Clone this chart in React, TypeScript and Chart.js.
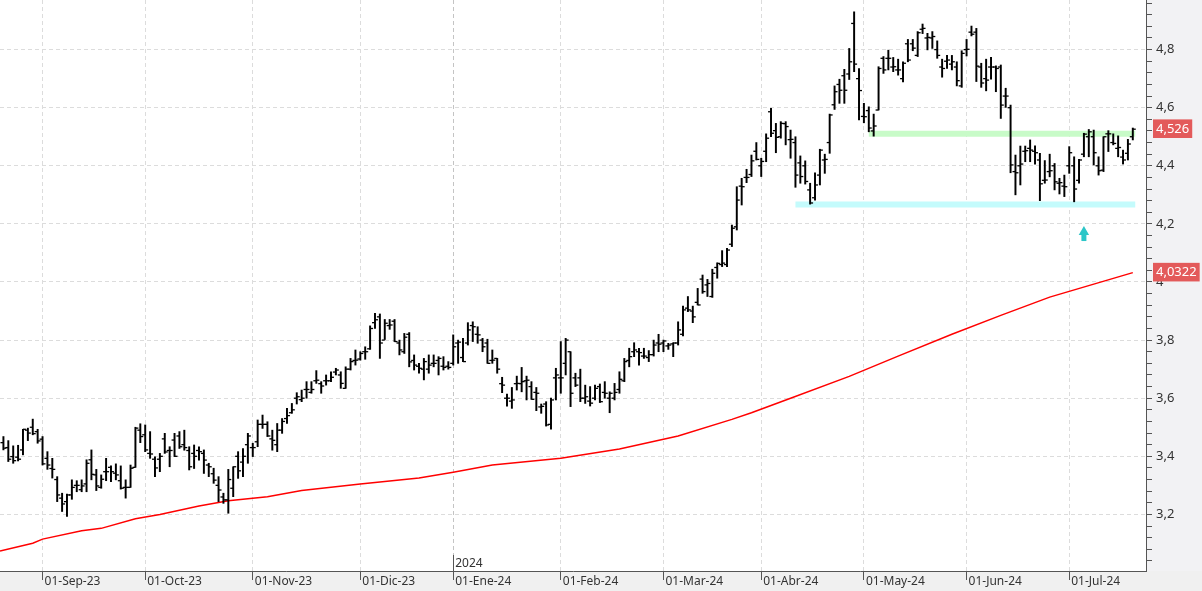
import React, { useEffect, useRef } from 'react';
import { Chart, registerables } from 'chart.js';

Chart.register(...registerables);

// Daily OHLC bars, index 0 = 22-Aug-23 ... index 231 = 17-Jul-24
const highs = [
  3.468, 3.454, 3.436, 3.438, 3.493, 3.497, 3.528, 3.493, 3.468, 3.416,
  3.393, 3.33, 3.273, 3.27, 3.319, 3.316, 3.319, 3.388, 3.422, 3.355,
  3.336, 3.393, 3.367, 3.374, 3.367, 3.319, 3.37, 3.5, 3.512, 3.508,
  3.485, 3.398, 3.41, 3.479, 3.433, 3.479, 3.485, 3.49, 3.433, 3.439,
  3.433, 3.422, 3.376, 3.359, 3.33, 3.273, 3.355, 3.364, 3.416, 3.427,
  3.479, 3.445, 3.525, 3.542, 3.519, 3.49, 3.513, 3.53, 3.565, 3.582,
  3.619, 3.628, 3.657, 3.657, 3.695, 3.657, 3.68, 3.691, 3.703, 3.691,
  3.708, 3.737, 3.766, 3.76, 3.777, 3.849, 3.892, 3.89, 3.871, 3.871,
  3.871, 3.8, 3.823, 3.826, 3.749, 3.72, 3.737, 3.749, 3.749, 3.743,
  3.743, 3.726, 3.818, 3.8, 3.806, 3.86, 3.863, 3.846, 3.806, 3.803,
  3.766, 3.737, 3.672, 3.614, 3.637, 3.676, 3.706, 3.676, 3.657, 3.637,
  3.58, 3.588, 3.6, 3.703, 3.795, 3.806, 3.76, 3.686, 3.7, 3.645,
  3.64, 3.645, 3.649, 3.657, 3.622, 3.651, 3.691, 3.737, 3.772, 3.791,
  3.772, 3.772, 3.764, 3.8, 3.82, 3.8, 3.789, 3.791, 3.863, 3.917,
  3.95, 3.917, 3.978, 4.024, 4.009, 4.044, 4.066, 4.108, 4.116, 4.196,
  4.328, 4.357, 4.388, 4.437, 4.48, 4.426, 4.51, 4.598, 4.546, 4.552,
  4.552, 4.523, 4.5, 4.434, 4.417, 4.34, 4.376, 4.457, 4.44, 4.578,
  4.675, 4.698, 4.732, 4.804, 4.93, 4.735, 4.615, 4.603, 4.578, 4.741,
  4.776, 4.798, 4.773, 4.767, 4.758, 4.835, 4.835, 4.862, 4.888, 4.856,
  4.862, 4.83, 4.767, 4.78, 4.78, 4.758, 4.796, 4.835, 4.881, 4.873,
  4.753, 4.767, 4.773, 4.744, 4.747, 4.667, 4.609, 4.437, 4.468, 4.468,
  4.489, 4.469, 4.443, 4.418, 4.44, 4.408, 4.357, 4.368, 4.466, 4.431,
  4.422, 4.512, 4.525, 4.523, 4.431, 4.5, 4.521, 4.51, 4.503, 4.454,
  4.491, 4.53
];
const lows = [
  3.422, 3.382, 3.376, 3.384, 3.405, 3.454, 3.474, 3.445, 3.37, 3.355,
  3.325, 3.244, 3.21, 3.193, 3.252, 3.278, 3.278, 3.278, 3.319, 3.282,
  3.29, 3.316, 3.313, 3.319, 3.287, 3.256, 3.293, 3.362, 3.447, 3.416,
  3.393, 3.33, 3.347, 3.41, 3.364, 3.399, 3.427, 3.421, 3.353, 3.358,
  3.387, 3.341, 3.33, 3.307, 3.244, 3.238, 3.204, 3.261, 3.324, 3.33,
  3.376, 3.399, 3.433, 3.496, 3.468, 3.421, 3.416, 3.479, 3.513, 3.548,
  3.58, 3.588, 3.6, 3.617, 3.651, 3.617, 3.645, 3.657, 3.68, 3.634,
  3.634, 3.697, 3.714, 3.731, 3.734, 3.768, 3.84, 3.737, 3.802, 3.837,
  3.795, 3.749, 3.754, 3.708, 3.697, 3.686, 3.663, 3.686, 3.708, 3.68,
  3.697, 3.7, 3.714, 3.72, 3.726, 3.783, 3.795, 3.789, 3.76, 3.72,
  3.72, 3.686, 3.619, 3.573, 3.565, 3.628, 3.622, 3.594, 3.596, 3.557,
  3.548, 3.504, 3.493, 3.594, 3.617, 3.68, 3.571, 3.64, 3.588, 3.582,
  3.573, 3.594, 3.585, 3.6, 3.55, 3.594, 3.617, 3.657, 3.708, 3.743,
  3.714, 3.737, 3.726, 3.745, 3.76, 3.76, 3.768, 3.743, 3.783, 3.814,
  3.898, 3.86, 3.921, 3.961, 3.95, 3.947, 4.013, 4.053, 4.053, 4.122,
  4.179, 4.265, 4.342, 4.363, 4.42, 4.363, 4.414, 4.5, 4.445, 4.495,
  4.472, 4.426, 4.326, 4.34, 4.337, 4.268, 4.282, 4.334, 4.374, 4.443,
  4.594, 4.615, 4.615, 4.697, 4.724, 4.558, 4.548, 4.517, 4.502, 4.592,
  4.718, 4.73, 4.724, 4.712, 4.689, 4.758, 4.796, 4.776, 4.855, 4.799,
  4.804, 4.77, 4.705, 4.735, 4.73, 4.675, 4.67, 4.778, 4.847, 4.69,
  4.67, 4.658, 4.698, 4.655, 4.563, 4.601, 4.376, 4.3, 4.334, 4.414,
  4.414, 4.406, 4.28, 4.34, 4.362, 4.317, 4.303, 4.294, 4.374, 4.276,
  4.34, 4.431, 4.431, 4.403, 4.368, 4.38, 4.449, 4.472, 4.431, 4.406,
  4.42, 4.489
];
const opens = [
  3.447, 3.43, 3.399, 3.397, 3.422, 3.49, 3.5, 3.485, 3.459, 3.393,
  3.358, 3.32, 3.256, 3.244, 3.267, 3.3, 3.285, 3.305, 3.388, 3.336,
  3.293, 3.347, 3.362, 3.342, 3.316, 3.293, 3.293, 3.362, 3.49, 3.474,
  3.41, 3.39, 3.39, 3.46, 3.42, 3.456, 3.47, 3.44, 3.42, 3.41,
  3.42, 3.41, 3.37, 3.34, 3.3, 3.26, 3.25, 3.29, 3.4, 3.38,
  3.44, 3.43, 3.45, 3.51, 3.51, 3.46, 3.44, 3.49, 3.53, 3.55,
  3.6, 3.595, 3.63, 3.62, 3.66, 3.65, 3.66, 3.66, 3.69, 3.68,
  3.634, 3.7, 3.73, 3.735, 3.76, 3.77, 3.86, 3.88, 3.8, 3.85,
  3.865, 3.79, 3.76, 3.82, 3.73, 3.71, 3.7, 3.7, 3.72, 3.73,
  3.71, 3.71, 3.72, 3.79, 3.74, 3.79, 3.85, 3.82, 3.8, 3.79,
  3.73, 3.737, 3.65, 3.6, 3.59, 3.65, 3.65, 3.66, 3.64, 3.62,
  3.57, 3.58, 3.51, 3.67, 3.67, 3.72, 3.76, 3.67, 3.67, 3.6,
  3.59, 3.6, 3.64, 3.62, 3.6, 3.6, 3.63, 3.66, 3.73, 3.76,
  3.76, 3.745, 3.74, 3.75, 3.79, 3.79, 3.78, 3.787, 3.79, 3.82,
  3.91, 3.9, 3.93, 4.01, 3.99, 3.95, 4.05, 4.06, 4.06, 4.13,
  4.19, 4.33, 4.36, 4.37, 4.45, 4.4, 4.45, 4.586, 4.521, 4.5,
  4.545, 4.49, 4.48, 4.41, 4.4, 4.317, 4.29, 4.368, 4.42, 4.48,
  4.61, 4.68, 4.71, 4.716, 4.89, 4.7, 4.57, 4.59, 4.52, 4.592,
  4.77, 4.77, 4.74, 4.73, 4.7, 4.82, 4.82, 4.78, 4.87, 4.84,
  4.84, 4.8, 4.74, 4.76, 4.75, 4.74, 4.675, 4.8, 4.86, 4.86,
  4.74, 4.7, 4.74, 4.74, 4.74, 4.64, 4.6, 4.38, 4.4, 4.45,
  4.46, 4.45, 4.42, 4.35, 4.38, 4.4, 4.34, 4.33, 4.4, 4.4,
  4.35, 4.44, 4.5, 4.5, 4.4, 4.385, 4.51, 4.48, 4.46, 4.43,
  4.443, 4.5
];
const closes = [
  3.428, 3.39, 3.385, 3.39, 3.493, 3.48, 3.478, 3.453, 3.374, 3.37,
  3.355, 3.267, 3.236, 3.267, 3.293, 3.3, 3.298, 3.376, 3.338, 3.298,
  3.321, 3.347, 3.347, 3.336, 3.29, 3.293, 3.359, 3.497, 3.468, 3.422,
  3.408, 3.36, 3.4, 3.415, 3.42, 3.4, 3.433, 3.43, 3.364, 3.4,
  3.416, 3.387, 3.364, 3.318, 3.284, 3.25, 3.32, 3.364, 3.35, 3.4,
  3.47, 3.43, 3.51, 3.51, 3.47, 3.455, 3.49, 3.52, 3.54, 3.56,
  3.605, 3.6, 3.63, 3.63, 3.662, 3.642, 3.66, 3.672, 3.697, 3.651,
  3.7, 3.726, 3.731, 3.754, 3.76, 3.84, 3.87, 3.79, 3.858, 3.852,
  3.795, 3.766, 3.81, 3.725, 3.714, 3.703, 3.726, 3.714, 3.72, 3.737,
  3.706, 3.706, 3.777, 3.793, 3.726, 3.835, 3.846, 3.818, 3.777, 3.72,
  3.731, 3.7, 3.645, 3.6, 3.594, 3.651, 3.657, 3.662, 3.596, 3.617,
  3.572, 3.508, 3.594, 3.68, 3.67, 3.8, 3.617, 3.645, 3.6, 3.605,
  3.583, 3.634, 3.588, 3.617, 3.617, 3.62, 3.665, 3.726, 3.743, 3.766,
  3.757, 3.745, 3.75, 3.783, 3.786, 3.797, 3.783, 3.79, 3.835, 3.904,
  3.904, 3.88, 3.921, 3.967, 3.995, 4.03, 4.064, 4.065, 4.11, 4.185,
  4.282, 4.328, 4.36, 4.417, 4.422, 4.415, 4.495, 4.512, 4.498, 4.546,
  4.535, 4.491, 4.368, 4.363, 4.346, 4.272, 4.334, 4.454, 4.422, 4.575,
  4.655, 4.66, 4.66, 4.758, 4.75, 4.659, 4.569, 4.53, 4.537, 4.735,
  4.73, 4.77, 4.741, 4.73, 4.753, 4.764, 4.805, 4.858, 4.873, 4.842,
  4.845, 4.78, 4.735, 4.764, 4.758, 4.693, 4.787, 4.801, 4.853, 4.743,
  4.685, 4.695, 4.74, 4.735, 4.609, 4.64, 4.403, 4.376, 4.406, 4.452,
  4.454, 4.445, 4.338, 4.351, 4.383, 4.345, 4.342, 4.328, 4.445, 4.32,
  4.42, 4.509, 4.517, 4.445, 4.383, 4.5, 4.51, 4.477, 4.463, 4.42,
  4.475, 4.526
];

// Moving average (red line)
const maIndex = [-0.7, 6, 8, 16, 20, 27, 32, 40, 46, 54, 61, 73, 85, 92, 100, 114, 126, 138, 149, 153, 161, 173, 183, 194, 204, 214, 231];
const maValues = [3.074, 3.101, 3.115, 3.144, 3.152, 3.185, 3.2, 3.229, 3.247, 3.261, 3.282, 3.305, 3.325, 3.345, 3.37, 3.393, 3.425, 3.47, 3.527, 3.55, 3.6, 3.675, 3.745, 3.82, 3.885, 3.948, 4.0322];

// Month axis
const monthTickIndex = [8, 29, 51, 73, 92, 114, 135, 155, 176, 197, 218];
const monthTickLabels = ['01-Sep-23', '01-Oct-23', '01-Nov-23', '01-Dic-23', '01-Ene-24', '01-Feb-24', '01-Mar-24', '01-Abr-24', '01-May-24', '01-Jun-24', '01-Jul-24'];
const yearTickIndex = 92;
const yearLabel = '2024';

// Horizontal levels and arrow
const resistanceLevel = 4.51;
const resistanceSpan = [177, 231.5];
const supportLevel = 4.267;
const supportSpan = [162, 231.5];
const arrowIndex = 221;
const arrowHead = 4.172;
const arrowTail = 4.141;

// Price markers on the right axis
const markerValues = [4.0322, 4.526];
const markerLabels = ['4,0322', '4,526'];

const FONT = '"Noto Sans", "DejaVu Sans", sans-serif';

const isMarker = (v: number) => markerValues.some((m) => Math.abs(m - v) < 1e-9);
const isMajor = (v: number) => Math.abs(v * 5 - Math.round(v * 5)) < 1e-6;

export default function App() {
  const ref = useRef<HTMLCanvasElement | null>(null);

  useEffect(() => {
    const canvas = ref.current;
    if (!canvas) return;

    const barData = highs.map((h, i) => ({ x: i, y: [lows[i], h] }));
    const openData = opens.map((o, i) => ({ x: i - 0.3, y: o }));
    const closeData = closes.map((c, i) => ({ x: i + 0.3, y: c }));
    const maData = maIndex.map((x, i) => ({ x, y: maValues[i] }));

    const bgPlugin = {
      id: 'axisBg',
      beforeDraw(chart: any) {
        const { ctx, chartArea, width, height } = chart;
        ctx.save();
        ctx.fillStyle = '#ffffff';
        ctx.fillRect(0, 0, width, height);
        ctx.fillStyle = '#f2f2f4';
        ctx.fillRect(chartArea.right, 0, width - chartArea.right, height);
        ctx.fillStyle = '#f0f0f0';
        ctx.fillRect(0, chartArea.bottom, width, height - chartArea.bottom);
        ctx.restore();
      },
      afterDraw(chart: any) {
        const { ctx, chartArea, scales } = chart;
        const px = scales.x.getPixelForValue(yearTickIndex);
        ctx.save();
        ctx.strokeStyle = '#555';
        ctx.lineWidth = 1;
        ctx.beginPath();
        ctx.moveTo(Math.round(px) + 0.5, chartArea.bottom - 16);
        ctx.lineTo(Math.round(px) + 0.5, chartArea.bottom);
        ctx.stroke();
        ctx.fillStyle = '#333';
        ctx.font = '12px ' + FONT;
        ctx.textBaseline = 'bottom';
        ctx.fillText(yearLabel, px + 2, chartArea.bottom - 1);
        ctx.restore();
      },
    };

    const chart = new Chart(canvas, {
      type: 'bar',
      data: {
        datasets: [
          {
            type: 'line',
            data: [{ x: supportSpan[0], y: supportLevel }, { x: supportSpan[1], y: supportLevel }],
            borderColor: '#c4fbfc',
            borderWidth: 6,
            pointRadius: 0,
            order: 10,
          } as any,
          {
            type: 'line',
            data: [{ x: resistanceSpan[0], y: resistanceLevel }, { x: resistanceSpan[1], y: resistanceLevel }],
            borderColor: '#c8fbc8',
            borderWidth: 6,
            pointRadius: 0,
            order: 10,
          },
          {
            type: 'line',
            data: maData,
            borderColor: '#ff0000',
            borderWidth: 1.5,
            pointRadius: 0,
            tension: 0,
            order: 5,
          },
          {
            type: 'bar',
            data: barData,
            backgroundColor: '#000000',
            borderWidth: 0,
            barThickness: 1.3,
            grouped: false,
            order: 2,
          },
          {
            type: 'scatter',
            data: openData,
            pointStyle: 'line',
            pointRadius: 1.5,
            pointBorderWidth: 1.3,
            pointBorderColor: '#000',
            borderColor: '#000',
            order: 1,
          },
          {
            type: 'scatter',
            data: closeData,
            pointStyle: 'line',
            pointRadius: 1.5,
            pointBorderWidth: 1.3,
            pointBorderColor: '#000',
            borderColor: '#000',
            order: 1,
          },
          {
            type: 'line',
            data: [{ x: arrowIndex, y: arrowTail }, { x: arrowIndex, y: arrowHead }],
            borderColor: '#2cc6c8',
            borderWidth: 5,
            borderCapStyle: 'butt',
            pointRadius: 0,
            order: 0,
          },
          {
            type: 'scatter',
            data: [{ x: arrowIndex, y: arrowHead }],
            pointStyle: 'triangle',
            pointRadius: 6,
            pointBackgroundColor: '#2cc6c8',
            pointBorderWidth: 0,
            backgroundColor: '#2cc6c8',
            borderWidth: 0,
            order: 0,
          },
        ] as any,
      },
      options: {
        responsive: false,
        animation: false,
        events: [],
        layout: { padding: 0, autoPadding: false },
        plugins: { legend: { display: false }, tooltip: { enabled: false } },
        scales: {
          x: {
            type: 'linear',
            min: -0.7,
            max: 233.7,
            offset: false,
            afterFit(scale: any) {
              scale.height = 20;
              scale.paddingLeft = 0;
              scale.paddingRight = 0;
            },
            afterBuildTicks(scale: any) {
              scale.ticks = monthTickIndex.map((v) => ({ value: v }));
            },
            grid: {
              offset: false,
              color: (c: any) => (c.tick && c.tick.value === yearTickIndex ? '#c4c4c4' : '#dcdcdc'),
              lineWidth: 1,
              drawTicks: true,
              tickLength: 9,
              tickColor: '#555',
              tickWidth: 1,
              tickBorderDash: [],
            },
            border: { display: true, color: '#555', width: 1, dash: [4, 3] },
            ticks: {
              autoSkip: false,
              maxRotation: 0,
              minRotation: 0,
              align: 'start',
              labelOffset: 2,
              padding: -6,
              color: '#333',
              font: { family: FONT, size: 12 },
              callback: (v: any) => {
                const k = monthTickIndex.indexOf(Number(v));
                return k >= 0 ? monthTickLabels[k] : '';
              },
            },
          },
          y: {
            type: 'linear',
            position: 'right',
            min: 3.0052,
            max: 4.9707,
            afterFit(scale: any) {
              scale.width = 56;
              scale.paddingTop = 0;
              scale.paddingBottom = 0;
            },
            afterBuildTicks(scale: any) {
              const vals: number[] = [];
              for (let k = 76; k <= 124; k++) vals.push(Math.round(k * 4) / 100);
              markerValues.forEach((m) => vals.push(m));
              vals.sort((a, b) => a - b);
              scale.ticks = vals.map((v) => ({ value: v }));
            },
            grid: {
              offset: false,
              color: (c: any) => {
                const v = c.tick ? c.tick.value : 0;
                if (isMarker(v)) return 'rgba(0,0,0,0)';
                return isMajor(v) ? '#dcdcdc' : 'rgba(0,0,0,0)';
              },
              lineWidth: 1,
              drawTicks: true,
              tickLength: 6,
              tickColor: (c: any) => (c.tick && isMarker(c.tick.value) ? 'rgba(0,0,0,0)' : '#555'),
              tickWidth: 1,
              tickBorderDash: [],
            },
            border: { display: true, color: '#555', width: 1, dash: [4, 3] },
            ticks: {
              autoSkip: false,
              padding: 4,
              font: { family: FONT, size: 13 },
              color: (c: any) => (c.tick && isMarker(c.tick.value) ? '#ffffff' : '#333333'),
              showLabelBackdrop: (c: any) => !!(c.tick && isMarker(c.tick.value)),
              backdropColor: (c: any) => (c.tick && isMarker(c.tick.value) ? '#e35a5a' : 'rgba(0,0,0,0)'),
              backdropPadding: { left: 3, right: 3, top: 2, bottom: 1 },
              callback: (v: any) => {
                const n = Number(v);
                const mi = markerValues.findIndex((m) => Math.abs(m - n) < 1e-9);
                if (mi >= 0) return markerLabels[mi];
                if (!isMajor(n)) return '';
                let s = n.toFixed(1).replace('.', ',');
                if (s.endsWith(',0')) s = s.slice(0, -2);
                return s;
              },
            },
          },
        },
      } as any,
      plugins: [bgPlugin],
    });

    return () => chart.destroy();
  }, []);

  return (
    <div style={{ position: 'fixed', left: 0, top: 0, width: 1202, height: 591, background: '#fff' }}>
      <canvas ref={ref} width={1202} height={591} style={{ display: 'block', width: 1202, height: 591 }} />
    </div>
  );
}
